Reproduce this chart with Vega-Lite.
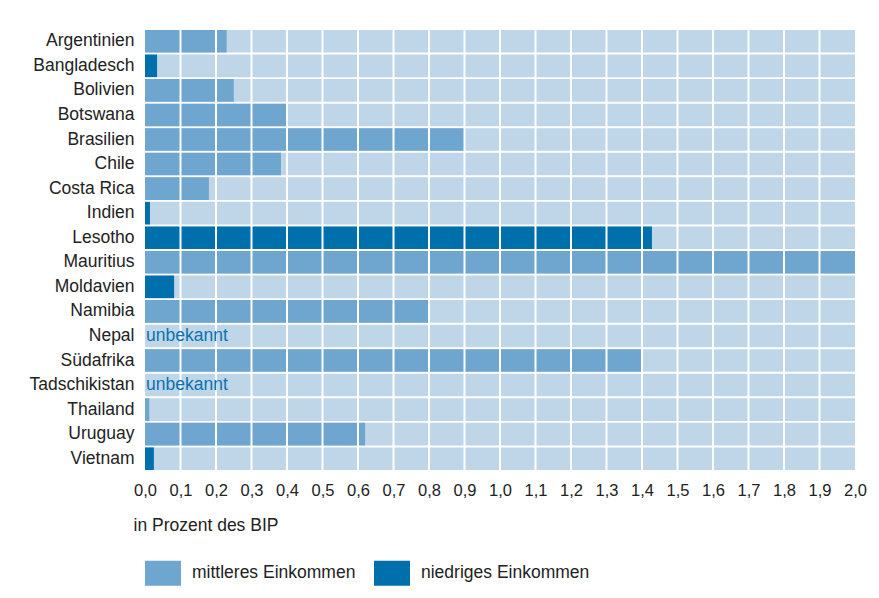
{
  "$schema": "https://vega.github.io/schema/vega-lite/v6.json",
  "width": 710,
  "height": 442,
  "autosize": "none",
  "padding": {"left": 145, "top": 29, "right": 24, "bottom": 127},
  "background": "white",
  "config": {
    "view": {"stroke": null},
    "font": "Liberation Sans",
    "axis": {"labelFont": "Liberation Sans", "titleFont": "Liberation Sans", "labelColor": "#222", "titleColor": "#222"},
    "axisX": {"labelOverlap": false, "labelFlush": false, "labelBound": false, "tickCount": 30},
    "legend": {"labelFont": "Liberation Sans", "labelLimit": 400}
  },
  "data": {
    "values": [
      {"land": "Argentinien", "wert": 0.23, "gruppe": "mittleres Einkommen", "hinweis": ""},
      {"land": "Bangladesch", "wert": 0.034, "gruppe": "niedriges Einkommen", "hinweis": ""},
      {"land": "Bolivien", "wert": 0.25, "gruppe": "mittleres Einkommen", "hinweis": ""},
      {"land": "Botswana", "wert": 0.4, "gruppe": "mittleres Einkommen", "hinweis": ""},
      {"land": "Brasilien", "wert": 0.9, "gruppe": "mittleres Einkommen", "hinweis": ""},
      {"land": "Chile", "wert": 0.383, "gruppe": "mittleres Einkommen", "hinweis": ""},
      {"land": "Costa Rica", "wert": 0.18, "gruppe": "mittleres Einkommen", "hinweis": ""},
      {"land": "Indien", "wert": 0.014, "gruppe": "niedriges Einkommen", "hinweis": ""},
      {"land": "Lesotho", "wert": 1.428, "gruppe": "niedriges Einkommen", "hinweis": ""},
      {"land": "Mauritius", "wert": 2.0, "gruppe": "mittleres Einkommen", "hinweis": ""},
      {"land": "Moldavien", "wert": 0.082, "gruppe": "niedriges Einkommen", "hinweis": ""},
      {"land": "Namibia", "wert": 0.8, "gruppe": "mittleres Einkommen", "hinweis": ""},
      {"land": "Nepal", "wert": null, "gruppe": null, "hinweis": "unbekannt"},
      {"land": "Südafrika", "wert": 1.4, "gruppe": "mittleres Einkommen", "hinweis": ""},
      {"land": "Tadschikistan", "wert": null, "gruppe": null, "hinweis": "unbekannt"},
      {"land": "Thailand", "wert": 0.012, "gruppe": "mittleres Einkommen", "hinweis": ""},
      {"land": "Uruguay", "wert": 0.62, "gruppe": "mittleres Einkommen", "hinweis": ""},
      {"land": "Vietnam", "wert": 0.025, "gruppe": "niedriges Einkommen", "hinweis": ""}
    ]
  },
  "layer": [
    {
      "mark": {"type": "bar", "color": "#bfd6e8"},
      "encoding": {
        "y": {
          "field": "land",
          "type": "nominal",
          "sort": null,
          "scale": {"paddingInner": 0.08, "paddingOuter": 0.04},
          "axis": {"title": null, "ticks": false, "domain": false, "labelPadding": 11, "labelFontSize": 17.5, "labelColor": "#222"}
        },
        "x": {
          "datum": 2,
          "type": "quantitative",
          "scale": {"domain": [0, 2], "nice": false},
          "axis": {
            "values": [0, 0.1, 0.2, 0.3, 0.4, 0.5, 0.6, 0.7, 0.8, 0.9, 1.0, 1.1, 1.2, 1.3, 1.4, 1.5, 1.6, 1.7, 1.8, 1.9, 2.0],
            "tickCount": 30,
            "labelExpr": "replace(format(datum.value, '.1f'), '.', ',')",
            "labelOverlap": false,
            "labelFlush": false,
            "labelBound": false,
            "grid": false,
            "ticks": false,
            "domain": false,
            "labelPadding": 11,
            "labelFontSize": 16.5,
            "labelColor": "#222",
            "title": "in Prozent des BIP",
            "titleFontSize": 17.5,
            "titleFontWeight": "normal",
            "titleColor": "#222",
            "titleAnchor": "start",
            "titleAlign": "left",
            "titleX": -12,
            "titleY": 59,
            "titleBaseline": "alphabetic"
          }
        }
      }
    },
    {
      "transform": [{"filter": "datum.wert != null"}],
      "mark": {"type": "bar"},
      "encoding": {
        "y": {"field": "land", "type": "nominal", "sort": null},
        "x": {"field": "wert", "type": "quantitative"},
        "color": {
          "field": "gruppe",
          "type": "nominal",
          "scale": {"domain": ["mittleres Einkommen", "niedriges Einkommen"], "range": ["#6fa6cf", "#0070ad"]},
          "legend": {
            "title": null,
            "orient": "none",
            "direction": "horizontal",
            "legendX": 0,
            "legendY": 526,
            "symbolType": "M-1,-0.69H1V0.69H-1Z",
            "symbolSize": 1296,
            "symbolStrokeWidth": 0,
            "symbolOpacity": 1,
            "labelFontSize": 17.5,
            "labelLimit": 400,
            "labelColor": "#222",
            "labelOffset": 11,
            "columnPadding": 18,
            "symbolOffset": 0
          }
        }
      }
    },
    {
      "data": {
        "values": [
          {"gitter": 0.1}, {"gitter": 0.2}, {"gitter": 0.3}, {"gitter": 0.4}, {"gitter": 0.5},
          {"gitter": 0.6}, {"gitter": 0.7}, {"gitter": 0.8}, {"gitter": 0.9}, {"gitter": 1.0},
          {"gitter": 1.1}, {"gitter": 1.2}, {"gitter": 1.3}, {"gitter": 1.4}, {"gitter": 1.5},
          {"gitter": 1.6}, {"gitter": 1.7}, {"gitter": 1.8}, {"gitter": 1.9}
        ]
      },
      "mark": {"type": "rule", "color": "white", "strokeWidth": 2},
      "encoding": {
        "x": {"field": "gitter", "type": "quantitative"}
      }
    },
    {
      "transform": [{"filter": "datum.hinweis != ''"}],
      "mark": {"type": "text", "align": "left", "baseline": "middle", "dx": 1, "fontSize": 17.5, "color": "#0a72b0"},
      "encoding": {
        "y": {"field": "land", "type": "nominal", "sort": null},
        "x": {"datum": 0, "type": "quantitative"},
        "text": {"field": "hinweis"}
      }
    }
  ]
}
